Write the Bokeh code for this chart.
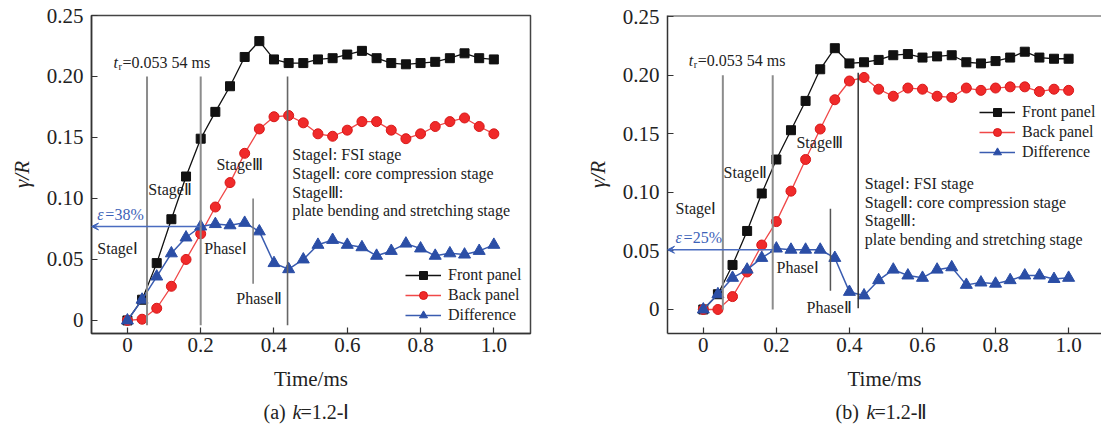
from bokeh.plotting import figure
from bokeh.layouts import row, column
from bokeh.models import Label, Legend, LegendItem, FixedTicker, Arrow, VeeHead, Span, Range1d
from bokeh.embed import file_html
from bokeh.resources import INLINE

# ---------------- data ----------------
time_ms = [0.00, 0.04, 0.08, 0.12, 0.16, 0.20, 0.24, 0.28, 0.32, 0.36, 0.40, 0.44, 0.48,
           0.52, 0.56, 0.60, 0.64, 0.68, 0.72, 0.76, 0.80, 0.84, 0.88, 0.92, 0.96, 1.00]

# (a) k=1.2-I
front_a = [0.000, 0.017, 0.047, 0.083, 0.118, 0.149, 0.171, 0.192, 0.216, 0.229, 0.214, 0.211, 0.211,
           0.214, 0.215, 0.218, 0.221, 0.215, 0.211, 0.210, 0.211, 0.212, 0.215, 0.219, 0.215, 0.214]
back_a = [0.000, 0.001, 0.010, 0.028, 0.050, 0.071, 0.093, 0.113, 0.137, 0.157, 0.167, 0.168, 0.162,
          0.153, 0.151, 0.156, 0.163, 0.163, 0.156, 0.149, 0.153, 0.159, 0.163, 0.166, 0.159, 0.153]
diff_a = [0.000, 0.017, 0.036, 0.055, 0.068, 0.077, 0.079, 0.078, 0.080, 0.073, 0.047, 0.042, 0.050,
          0.062, 0.066, 0.062, 0.060, 0.053, 0.057, 0.063, 0.059, 0.053, 0.055, 0.054, 0.057, 0.062]

# (b) k=1.2-II
front_b = [0.000, 0.013, 0.038, 0.067, 0.099, 0.128, 0.153, 0.178, 0.205, 0.223, 0.210, 0.211, 0.213,
           0.217, 0.218, 0.215, 0.216, 0.217, 0.211, 0.210, 0.212, 0.215, 0.220, 0.215, 0.214, 0.214]
back_b = [0.000, 0.000, 0.011, 0.032, 0.055, 0.075, 0.101, 0.128, 0.154, 0.179, 0.195, 0.198, 0.188,
          0.182, 0.189, 0.188, 0.182, 0.181, 0.189, 0.187, 0.189, 0.190, 0.190, 0.186, 0.188, 0.187]
diff_b = [0.000, 0.013, 0.027, 0.034, 0.044, 0.052, 0.051, 0.051, 0.051, 0.044, 0.015, 0.012, 0.025,
          0.034, 0.029, 0.027, 0.034, 0.036, 0.021, 0.023, 0.022, 0.025, 0.029, 0.029, 0.026, 0.027]

series_names = ["Front panel", "Back panel", "Difference"]

x_ticks = [0, 0.2, 0.4, 0.6, 0.8, 1.0]
x_tick_labels = ["0", "0.2", "0.4", "0.6", "0.8", "1.0"]
y_ticks = [0, 0.05, 0.10, 0.15, 0.20, 0.25]
y_tick_labels = ["0", "0.05", "0.10", "0.15", "0.20", "0.25"]

# stage dividers (time, bottom, top)
div_x_a = [0.0535, 0.200, 0.343, 0.437]
div_y0_a = [-0.004, -0.004, 0.030, -0.004]
div_y1_a = [0.200, 0.200, 0.100, 0.200]
div_x_b = [0.0535, 0.190, 0.348, 0.424]
div_y0_b = [0.000, 0.000, 0.016, 0.001]
div_y1_b = [0.200, 0.200, 0.086, 0.202]

eps_a = 0.077   # ε=38%
eps_b = 0.051   # ε=25%

stage_lines = ["Stage\u2160: FSI stage", "Stage\u2161: core compression stage",
               "Stage\u2162:", "plate bending and stretching stage"]

FONT = "Liberation Serif"
BLACK = "#111111"
RED = "#f02a2a"
BLUE = "#2b4ea6"


def lab(p, x, y, text, size="16px", style="normal", color="#222222", dx=0, align="left"):
    p.add_layout(Label(x=x, y=y, text=text, x_offset=dx, text_font=FONT, text_font_size=size,
                       text_font_style=style, text_color=color, text_align=align,
                       text_baseline="middle"))


def make_panel(width, border_left, border_right, xr, yr, front, back, diff, outline):
    p = figure(width=width, height=395, x_range=xr, y_range=yr, output_backend="svg",
               toolbar_location=None, min_border_left=border_left, min_border_right=border_right,
               min_border_top=15, min_border_bottom=62)
    p.grid.visible = False
    p.background_fill_color = "white"
    p.border_fill_color = "white"
    if outline:
        p.outline_line_color = "#444444"
        p.outline_line_width = 1.5
    else:
        p.outline_line_color = None
        p.add_layout(Span(location=yr[1], dimension="width", line_color="#444444", line_width=2))
    for ax in (p.xaxis[0], p.yaxis[0]):
        ax.axis_line_color = "#333333"
        ax.axis_line_width = 1.5
        ax.major_tick_in = 6
        ax.major_tick_out = 0
        ax.major_tick_line_color = "#333333"
        ax.major_tick_line_width = 1.2
        ax.minor_tick_line_color = None
        ax.major_label_text_font = FONT
        ax.major_label_text_font_size = "21px"
        ax.major_label_text_color = "#222222"
        ax.axis_label_text_font = FONT
        ax.axis_label_text_font_size = "21px"
        ax.axis_label_text_color = "#222222"
    p.xaxis[0].ticker = FixedTicker(ticks=x_ticks)
    p.xaxis[0].major_label_overrides = {t: l for t, l in zip(x_ticks, x_tick_labels)}
    p.yaxis[0].ticker = FixedTicker(ticks=y_ticks)
    p.yaxis[0].major_label_overrides = {t: l for t, l in zip(y_ticks, y_tick_labels)}
    p.xaxis[0].axis_label = "Time/ms"
    p.xaxis[0].axis_label_text_font_style = "normal"
    p.xaxis[0].major_label_standoff = 4
    p.xaxis[0].axis_label_standoff = 12
    p.yaxis[0].axis_label = "\u03b3/R"
    p.yaxis[0].axis_label_text_font_style = "italic"
    p.yaxis[0].major_label_standoff = 8
    p.yaxis[0].axis_label_standoff = 10

    lf = p.line(time_ms, front, line_color=BLACK, line_width=1.3)
    sf = p.scatter(time_ms, front, marker="square", size=9, fill_color=BLACK, line_color=BLACK)
    lb = p.line(time_ms, back, line_color="#f04848", line_width=1.3)
    sb = p.scatter(time_ms, back, marker="circle", size=10, fill_color=RED, line_color="#d81818")
    ld = p.line(time_ms, diff, line_color="#3a5cb0", line_width=1.5)
    sd = p.scatter(time_ms, diff, marker="triangle", size=12, fill_color=BLUE, line_color=BLUE)
    items = [LegendItem(label=series_names[0], renderers=[lf, sf]),
             LegendItem(label=series_names[1], renderers=[lb, sb]),
             LegendItem(label=series_names[2], renderers=[ld, sd])]
    return p, items


def add_legend(p, items, loc):
    leg = Legend(items=items, location=loc, glyph_width=36, glyph_height=20, label_height=20,
                 label_standoff=7, spacing=0, padding=0, margin=0,
                 label_text_font=FONT, label_text_font_size="16px", label_text_color="#222222",
                 background_fill_alpha=0, border_line_color=None)
    p.add_layout(leg, "center")


def add_dividers(p, xs, y0s, y1s, colors, widths):
    for x, a, b, c, w in zip(xs, y0s, y1s, colors, widths):
        p.segment(x0=[x], y0=[a], x1=[x], y1=[b], line_color=c, line_width=w)


def add_eps(p, y, x_from, x_to, text, tx, ty):
    p.add_layout(Arrow(end=VeeHead(size=7, fill_color="#3d62b8", line_color="#3d62b8"),
                       x_start=x_from, y_start=y, x_end=x_to, y_end=y,
                       line_color="#4a6cc0", line_width=1.6))
    lab(p, tx, ty, "\u03b5", style="italic", color="#3d62b8")
    lab(p, tx, ty, text, color="#3d62b8", dx=8)


def add_tr(p, x, y, ypx):
    lab(p, x, y, "t", style="italic")
    lab(p, x, y - 4 * ypx, "r", size="10px", dx=5)
    lab(p, x, y, "=0.053 54 ms", dx=9)


# ---------------- panel (a) ----------------
xa = (-0.098, 1.100)
ya = (-0.0107, 0.250)
p1, items1 = make_panel(560, 91, 30, xa, ya, front_a, back_a, diff_a, True)
add_dividers(p1, div_x_a, div_y0_a, div_y1_a, ["#8c8c8c", "#8c8c8c", "#777777", "#666666"],
             [2, 2, 1.5, 1.6])
add_eps(p1, eps_a, div_x_a[1], xa[0], "=38%", -0.082, 0.0865)
ypa = 1 / 1220
add_tr(p1, -0.038, 0.2115, ypa)
lab(p1, 0.057, 0.1074, "Stage\u2161")
lab(p1, 0.243, 0.1279, "Stage\u2162")
lab(p1, -0.082, 0.059, "Stage\u2160")
lab(p1, 0.210, 0.059, "Phase\u2160")
lab(p1, 0.297, 0.018, "Phase\u2161")
for t, yy in zip(stage_lines, [0.136, 0.1205, 0.105, 0.090]):
    lab(p1, 0.450, yy, t)
add_legend(p1, items1, (314, 8))

# ---------------- panel (b) ----------------
xb = (-0.098, 1.090)
yb = (-0.0205, 0.2509)
p2, items2 = make_panel(541, 107, 0, xb, yb, front_b, back_b, diff_b, False)
add_dividers(p2, div_x_b, div_y0_b, div_y1_b, ["#8c8c8c", "#8c8c8c", "#555555", "#333333"],
             [2, 2, 1.5, 1.5])
add_eps(p2, eps_b, div_x_b[1], xb[0], "=25%", -0.0758, 0.0617)
ypb = 1 / 1172
add_tr(p2, -0.040, 0.2125, ypb)
lab(p2, -0.0758, 0.0862, "Stage\u2160")
lab(p2, 0.0555, 0.117, "Stage\u2161")
lab(p2, 0.255, 0.1427, "Stage\u2162")
lab(p2, 0.2005, 0.036, "Phase\u2160")
lab(p2, 0.2826, 0.0017, "Phase\u2161")
for t, yy in zip(stage_lines, [0.1075, 0.0916, 0.0759, 0.0595]):
    lab(p2, 0.442, yy, t)
add_legend(p2, items2, (312, 171))

# ---------------- captions strip ----------------
cap = figure(width=1101, height=30, x_range=Range1d(0, 1101), y_range=Range1d(0, 30),
             output_backend="svg", toolbar_location=None, x_axis_type=None, y_axis_type=None,
             min_border=0, min_border_left=0, min_border_right=0, min_border_top=0,
             min_border_bottom=0)
cap.grid.visible = False
cap.outline_line_color = None
lab(cap, 263, 14, "(a) ", size="20px")
lab(cap, 263, 14, "k", size="20px", style="italic", dx=29)
lab(cap, 263, 14, "=1.2-\u2160", size="20px", dx=37)
lab(cap, 835, 14, "(b) ", size="20px")
lab(cap, 835, 14, "k", size="20px", style="italic", dx=31)
lab(cap, 835, 14, "=1.2-\u2161", size="20px", dx=39)

layout = column(row(p1, p2), cap)
open("out.html", "w").write(file_html(layout, INLINE))
